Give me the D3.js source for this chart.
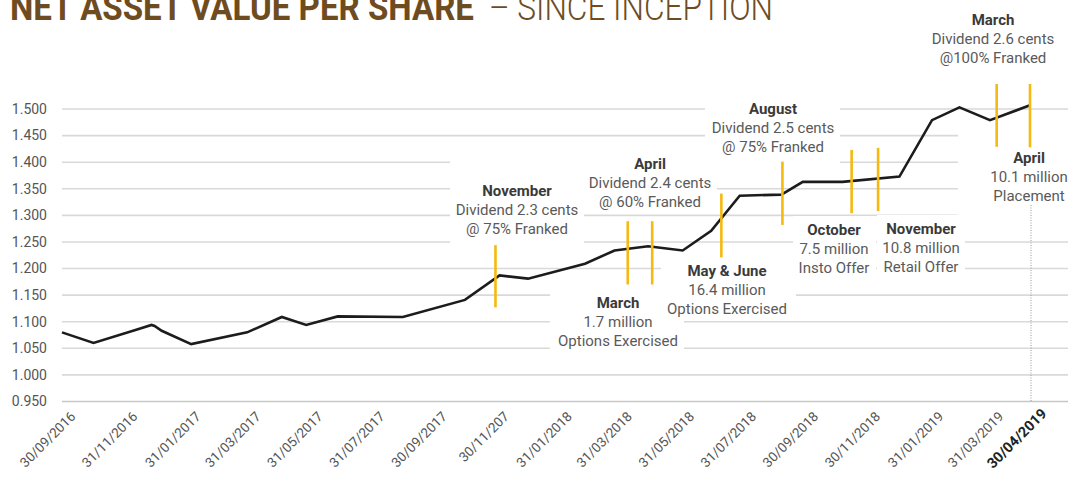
<!DOCTYPE html>
<html><head><meta charset="utf-8">
<script src="https://cdn.jsdelivr.net/npm/d3@7"></script>
<style>body{margin:0;background:#fff} svg{display:block}</style>
</head><body>
<svg id="c" width="1068" height="479"></svg>
<script>
// ---------- DATA ----------
const navDates = ["2016-09-30","2016-10-31","2016-12-12","2016-12-27","2016-12-30","2017-01-06","2017-02-04","2017-03-31","2017-05-04","2017-05-28","2017-06-28","2017-08-31","2017-10-31","2017-12-04","2018-01-01","2018-02-26","2018-03-27","2018-04-29","2018-06-02","2018-06-30","2018-07-28","2018-09-07","2018-09-28","2018-11-06","2019-01-01","2019-02-02","2019-03-01","2019-03-31","2019-04-30"];
const navValues = [1.080,1.060,1.085,1.094,1.092,1.083,1.058,1.080,1.109,1.094,1.110,1.109,1.141,1.187,1.181,1.209,1.234,1.242,1.234,1.271,1.337,1.339,1.363,1.363,1.373,1.479,1.503,1.479,1.507];

const yTickValues = [0.95,1.00,1.05,1.10,1.15,1.20,1.25,1.30,1.35,1.40,1.45,1.50];
const yTickLabels = ["0.950","1.000","1.050","1.100","1.150","1.200","1.250","1.300","1.350","1.400","1.450","1.500"];

const xTickDates = ["2016-09-30","2016-11-30","2017-01-31","2017-03-31","2017-05-31","2017-07-31","2017-09-30","2017-11-30","2018-01-31","2018-03-31","2018-05-31","2018-07-31","2018-09-30","2018-11-30","2019-01-31","2019-03-31"];
const xTickLabels = ["30/09/2016","31/11/2016","31/01/2017","31/03/2017","31/05/2017","31/07/2017","30/09/2017","30/11/207","31/01/2018","31/03/2018","31/05/2018","31/07/2018","30/09/2018","30/11/2018","31/01/2019","31/03/2019"];

const reportDate = "2019-04-30";
const reportLabel = "30/04/2019";

const eventDates = ["2017-11-30","2018-04-09","2018-05-03","2018-07-10","2018-09-08","2018-11-15","2018-12-11","2019-04-05","2019-04-30"];
const eventHigh  = [1.244,1.289,1.289,1.341,1.401,1.423,1.427,1.547,1.547];
const eventLow   = [1.127,1.170,1.170,1.221,1.282,1.304,1.308,1.429,1.428];
const eventTitles = ["November","March","April","May & June","August","October","November","March","April"];
const eventLine1  = ["Dividend 2.3 cents","1.7 million","Dividend 2.4 cents","16.4 million","Dividend 2.5 cents","7.5 million","10.8 million","Dividend 2.6 cents","10.1 million"];
const eventLine2  = ["@ 75% Franked","Options Exercised","@ 60% Franked","Options Exercised","@ 75% Franked","Insto Offer","Retail Offer","@100% Franked","Placement"];

const titleBold = "NET ASSET VALUE PER SHARE";
const titleLight = "– SINCE INCEPTION";

// ---------- LAYOUT (pixels) ----------
const labelLayout = [ // cx, first line cy, box x0,y0,x1,y1
  [517,191, 450,150,584,250],
  [618,303, 550,290,684,355],
  [650,164, 584,148,717,207],
  [727,271, 661,256,796,318],
  [773,109, 705,96,840,163],
  [834,230, 793,216,876,283],
  [921,229, 877,215,965,283],
  [993,20,  928,6,1058,68],
  [1029,158, 958,124,1068,224]
];
const lineGap = 18.8;

const parse = d3.timeParse("%Y-%m-%d");
const svg = d3.select("#c");
const x = d3.scaleTime()
  .domain([parse("2016-09-30"), parse("2019-03-31"), parse("2019-04-30")])
  .range([62, 990, 1030]);
const y = d3.scaleLinear().domain([0.95, 1.5]).range([401.5, 109]);

const font = "Roboto, 'Noto Sans', sans-serif";

// gridlines
svg.append("g").selectAll("line").data(yTickValues).join("line")
  .attr("x1", 62).attr("x2", 1068)
  .attr("y1", d => y(d)).attr("y2", d => y(d))
  .attr("stroke", d => d === 0.95 ? "#c8c8c8" : "#d9d9d9")
  .attr("stroke-width", 1.6);

// y labels
svg.append("g").selectAll("text").data(yTickValues).join("text")
  .attr("x", 47).attr("y", d => y(d))
  .attr("dy", "0.35em").attr("text-anchor", "end")
  .attr("font-family", font).attr("font-size", 14).attr("fill", "#555")
  .text((d,i) => yTickLabels[i]);

// x labels
svg.append("g").selectAll("text").data(xTickDates).join("text")
  .attr("transform", d => `translate(${x(parse(d)) + 11},414) rotate(-45)`)
  .attr("dy", "0.35em").attr("text-anchor", "end")
  .attr("font-family", font).attr("font-size", 13.5).attr("fill", "#555")
  .text((d,i) => xTickLabels[i]);

svg.append("text")
  .attr("transform", `translate(${x(parse(reportDate)) + 14},411) rotate(-45)`)
  .attr("dy", "0.35em").attr("text-anchor", "end")
  .attr("font-family", font).attr("font-size", 14.5).attr("font-weight", 700).attr("fill", "#222")
  .text(reportLabel);

// white label boxes
svg.append("g").selectAll("rect").data(labelLayout).join("rect")
  .attr("x", d => d[2]).attr("y", d => d[3])
  .attr("width", d => d[4]-d[2]).attr("height", d => d[5]-d[3])
  .attr("fill", "#fff");

// dotted line at report date
svg.append("line")
  .attr("x1", x(parse(reportDate))+1).attr("x2", x(parse(reportDate))+1)
  .attr("y1", 205).attr("y2", y(0.95))
  .attr("stroke", "#9a9a9a").attr("stroke-width", 1).attr("stroke-dasharray", "1,1.5");

// NAV line
const pts = navDates.map((d,i) => [parse(d), navValues[i]]);
svg.append("path").datum(pts)
  .attr("d", d3.line().x(d => x(d[0])).y(d => y(d[1])))
  .attr("fill", "none").attr("stroke", "#1c1c1c").attr("stroke-width", 2.6)
  .attr("stroke-linejoin", "miter");

// event markers
svg.append("g").selectAll("line").data(eventDates).join("line")
  .attr("x1", d => x(parse(d))).attr("x2", d => x(parse(d)))
  .attr("y1", (d,i) => y(eventHigh[i])).attr("y2", (d,i) => y(eventLow[i]))
  .attr("stroke", "#f5b90f").attr("stroke-width", 2.6);

// event labels
const lg = svg.append("g").attr("font-family", font).attr("text-anchor", "middle");
eventTitles.forEach((t, i) => {
  const [cx, cy] = labelLayout[i];
  lg.append("text").attr("x", cx).attr("y", cy).attr("dy", "0.35em")
    .attr("font-size", 15).attr("font-weight", 700).attr("fill", "#3a3a3a").text(t);
  lg.append("text").attr("x", cx).attr("y", cy + lineGap).attr("dy", "0.35em")
    .attr("font-size", 15).attr("fill", "#5a5a5a").text(eventLine1[i]);
  lg.append("text").attr("x", cx).attr("y", cy + 2*lineGap).attr("dy", "0.35em")
    .attr("font-size", 15).attr("fill", "#5a5a5a").text(eventLine2[i]);
});

// title
const tcol = "#6e4c1f";
svg.append("text").attr("x", 10).attr("y", 20)
  .attr("font-family", font).attr("font-size", 36).attr("font-weight", 700).attr("fill", tcol)
  .attr("textLength", 464).attr("lengthAdjust", "spacingAndGlyphs").text(titleBold);
svg.append("text").attr("x", 489).attr("y", 20)
  .attr("font-family", font).attr("font-size", 36).attr("font-weight", 300).attr("fill", tcol)
  .attr("textLength", 284).attr("lengthAdjust", "spacingAndGlyphs").text(titleLight);
</script>
</body></html>
